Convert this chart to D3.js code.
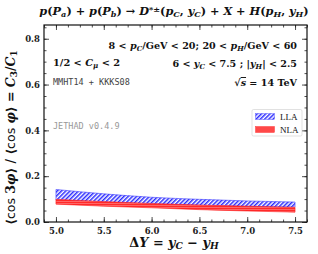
<!DOCTYPE html>
<html>
<head>
<meta charset="utf-8">
<script src="https://cdn.jsdelivr.net/npm/d3@7"></script>
<style>
body { margin: 0; background: white; }
.tick text { font-family: "DejaVu Serif", serif; font-weight: bold; font-size: 8.5px; fill: #222; }
.serif { font-family: "DejaVu Serif", serif; font-weight: bold; fill: #111; }
.mono { font-family: "DejaVu Sans Mono", monospace; }
</style>
</head>
<body>
<script>
// data
const dY = [5.0, 5.5, 6.0, 6.5, 7.0, 7.5];
const llaHi = [0.142, 0.123, 0.108, 0.099, 0.092, 0.087];
const llaLo = [0.096, 0.087, 0.079, 0.073, 0.068, 0.065];
const nlaHi = [0.099, 0.089, 0.081, 0.074, 0.069, 0.064];
const nlaLo = [0.078, 0.069, 0.062, 0.054, 0.048, 0.043];
const xTicks = [5.0, 5.5, 6.0, 6.5, 7.0, 7.5];
const yTicks = [0.0, 0.2, 0.4, 0.6, 0.8];

const W = 318, H = 254;
const margin = {top: 25, right: 11, bottom: 32, left: 44};
const width = W - margin.left - margin.right;
const height = H - margin.top - margin.bottom;

const svg = d3.select("body").append("svg").attr("width", W).attr("height", H);
const defs = svg.append("defs");

// hatch patterns
const pb = defs.append("pattern").attr("id", "hatchB").attr("patternUnits", "userSpaceOnUse")
  .attr("width", 3).attr("height", 3).attr("patternTransform", "rotate(-45)");
pb.append("rect").attr("width", 3).attr("height", 3).attr("fill", "white");
pb.append("rect").attr("width", 3).attr("height", 1.5).attr("fill", "#2a2aff");

const pr = defs.append("pattern").attr("id", "hatchR").attr("patternUnits", "userSpaceOnUse")
  .attr("width", 3).attr("height", 2);
pr.append("rect").attr("width", 3).attr("height", 2).attr("fill", "#ff2a2a");
pr.append("rect").attr("width", 3).attr("height", 0.7).attr("fill", "#ff8080");

const g = svg.append("g").attr("transform", `translate(${margin.left},${margin.top})`);

const x = d3.scaleLinear().domain([4.875, 7.625]).range([0, width]);
const y = d3.scaleLinear().domain([0, 0.86]).range([height, 0]);

const band = (hi, lo) => d3.area()
  .x((d, i) => x(dY[i]))
  .y0((d, i) => y(lo[i]))
  .y1((d, i) => y(hi[i]))
  .curve(d3.curveMonotoneX)(dY);

g.append("path").attr("d", band(llaHi, llaLo)).attr("fill", "url(#hatchB)")
  .attr("stroke", "#4040ff").attr("stroke-width", 0.6);
g.append("path").attr("d", band(nlaHi, nlaLo)).attr("fill", "url(#hatchR)")
  .attr("stroke", "#ff2020").attr("stroke-width", 0.6);

// axes with inward ticks on all four sides
const xMinor = d3.range(4.875, 7.626, 0.125);
const yMinor = d3.range(0, 0.86, 0.05);

g.append("g").attr("transform", `translate(0,${height})`)
  .call(d3.axisBottom(x).tickValues(xTicks).tickFormat(d3.format(".1f")).tickSize(-5).tickPadding(6))
  .call(a => a.select(".domain").remove());
g.append("g").attr("transform", `translate(0,${height})`)
  .call(d3.axisBottom(x).tickValues(xMinor).tickFormat("").tickSize(-2.5))
  .call(a => a.select(".domain").remove());
g.append("g")
  .call(d3.axisTop(x).tickValues(xTicks).tickFormat("").tickSize(-5))
  .call(a => a.select(".domain").remove());
g.append("g")
  .call(d3.axisTop(x).tickValues(xMinor).tickFormat("").tickSize(-2.5))
  .call(a => a.select(".domain").remove());

g.append("g")
  .call(d3.axisLeft(y).tickValues(yTicks).tickFormat(d3.format(".1f")).tickSize(-5).tickPadding(4))
  .call(a => a.select(".domain").remove());
g.append("g")
  .call(d3.axisLeft(y).tickValues(yMinor).tickFormat("").tickSize(-2.5))
  .call(a => a.select(".domain").remove());
g.append("g").attr("transform", `translate(${width},0)`)
  .call(d3.axisRight(y).tickValues(yTicks).tickFormat("").tickSize(-5))
  .call(a => a.select(".domain").remove());
g.append("g").attr("transform", `translate(${width},0)`)
  .call(d3.axisRight(y).tickValues(yMinor).tickFormat("").tickSize(-2.5))
  .call(a => a.select(".domain").remove());
g.selectAll(".tick line").attr("stroke", "#222").attr("stroke-width", 0.8);

g.append("rect").attr("width", width).attr("height", height)
  .attr("fill", "none").attr("stroke", "#111").attr("stroke-width", 1.2);

// text with sub/superscripts: parts = [text, style]
function rich(sel, parts) {
  parts.forEach(([t, s]) => {
    const ts = sel.append("tspan").text(t);
    if (s.includes("i")) ts.attr("font-style", "italic");
    if (s.includes("sub")) ts.attr("baseline-shift", "-22%").attr("font-size", "72%");
    if (s.includes("sup")) ts.attr("baseline-shift", "40%").attr("font-size", "72%");
    if (s.includes("ov")) ts.attr("text-decoration", "overline");
    if (s.includes("sans")) ts.attr("font-family", "DejaVu Sans").attr("font-weight", "normal").attr("font-style", "normal");
  });
  return sel;
}

// title
rich(svg.append("text").attr("class", "serif").attr("x", 174).attr("y", 15)
  .attr("text-anchor", "middle").attr("font-size", 11.3), [
  ["p", "i"], ["(", ""], ["P", "i"], ["a", "i sub"], [") + ", ""], ["p", "i"], ["(", ""], ["P", "i"], ["b", "i sub"],
  [") \u2192 ", ""], ["D", "i"], ["*\u00b1", "sup"], ["(", ""], ["p", "i"], ["C", "i sub"], [", ", ""], ["y", "i"], ["C", "i sub"],
  [") + ", ""], ["X", "i"], [" + ", ""], ["H", "i"], ["(", ""], ["p", "i"], ["H", "i sub"], [", ", ""], ["y", "i"], ["H", "i sub"], [")", ""]
]);

// annotations
const ax = x(7.5) + margin.left + 2;
rich(svg.append("text").attr("class", "serif").attr("x", ax).attr("y", 48.5)
  .attr("text-anchor", "end").attr("font-size", 9.6), [
  ["8 < ", ""], ["p", "i"], ["C", "i sub"], ["/GeV < 20;  20 < ", ""], ["p", "i"], ["H", "i sub"], ["/GeV < 60", ""]
]);
rich(svg.append("text").attr("class", "serif").attr("x", ax).attr("y", 66.5)
  .attr("text-anchor", "end").attr("font-size", 9.6), [
  ["6 < ", ""], ["y", "i"], ["C", "i sub"], [" < 7.5 ;    |", ""], ["y", "i"], ["H", "i sub"], ["| < 2.5", ""]
]);
rich(svg.append("text").attr("class", "serif").attr("x", ax).attr("y", 86)
  .attr("text-anchor", "end").attr("font-size", 9.6), [
  ["\u221a", ""], ["s", "i ov"], [" = 14 TeV", ""]
]);
rich(svg.append("text").attr("class", "serif").attr("x", 53).attr("y", 65.5)
  .attr("font-size", 9.8), [
  ["1/2 < ", ""], ["C", "i"], ["\u03bc", "i sub"], [" < 2", ""]
]);
svg.append("text").attr("class", "mono").attr("x", 53).attr("y", 85)
  .attr("font-size", 8.5).attr("fill", "#444").text("MMHT14 + KKKS08");
svg.append("text").attr("class", "mono").attr("x", 53).attr("y", 128.5)
  .attr("font-size", 8.5).attr("fill", "#999").text("JETHAD v0.4.9");

// legend
const lg = svg.append("g").attr("transform", "translate(252,109.5)");
lg.append("rect").attr("width", 50).attr("height", 26.5).attr("fill", "white")
  .attr("stroke", "#ccc").attr("stroke-width", 0.6).attr("rx", 1.5);
const legItems = [["LLA", "url(#hatchB)", "#4040ff"], ["NLA", "url(#hatchR)", "#ff2020"]];
legItems.forEach(([name, fill, stroke], i) => {
  lg.append("rect").attr("x", 3.5).attr("y", 4 + i * 13).attr("width", 19).attr("height", 6)
    .attr("fill", fill).attr("stroke", stroke).attr("stroke-width", 0.4);
  lg.append("text").attr("font-family", "Liberation Serif").attr("fill", "#111")
    .attr("x", 28).attr("y", 10.5 + i * 13).attr("font-size", 9).text(name);
});

// axis labels
rich(svg.append("text").attr("class", "serif").attr("x", 174).attr("y", 247)
  .attr("text-anchor", "middle").attr("font-size", 12.8), [
  ["\u0394", ""], ["Y", "i"], [" = ", ""], ["y", "i"], ["C", "i sub"], [" \u2212 ", ""], ["y", "i"], ["H", "i sub"]
]);
rich(svg.append("text").attr("class", "serif")
  .attr("transform", `translate(15,${margin.top + height / 2 + 14}) rotate(-90)`)
  .attr("text-anchor", "middle").attr("font-size", 12.5), [
  ["\u27e8", ""], ["cos", "sans"], [" 3", ""], ["\u03c6", "i"], ["\u27e9", ""], [" / ", ""], ["\u27e8", ""], ["cos", "sans"], [" ", ""],
  ["\u03c6", "i"], ["\u27e9", ""], [" = ", ""], ["C", "i"], ["3", "sub"], ["/", ""], ["C", "i"], ["1", "sub"]
]);
</script>
</body>
</html>
